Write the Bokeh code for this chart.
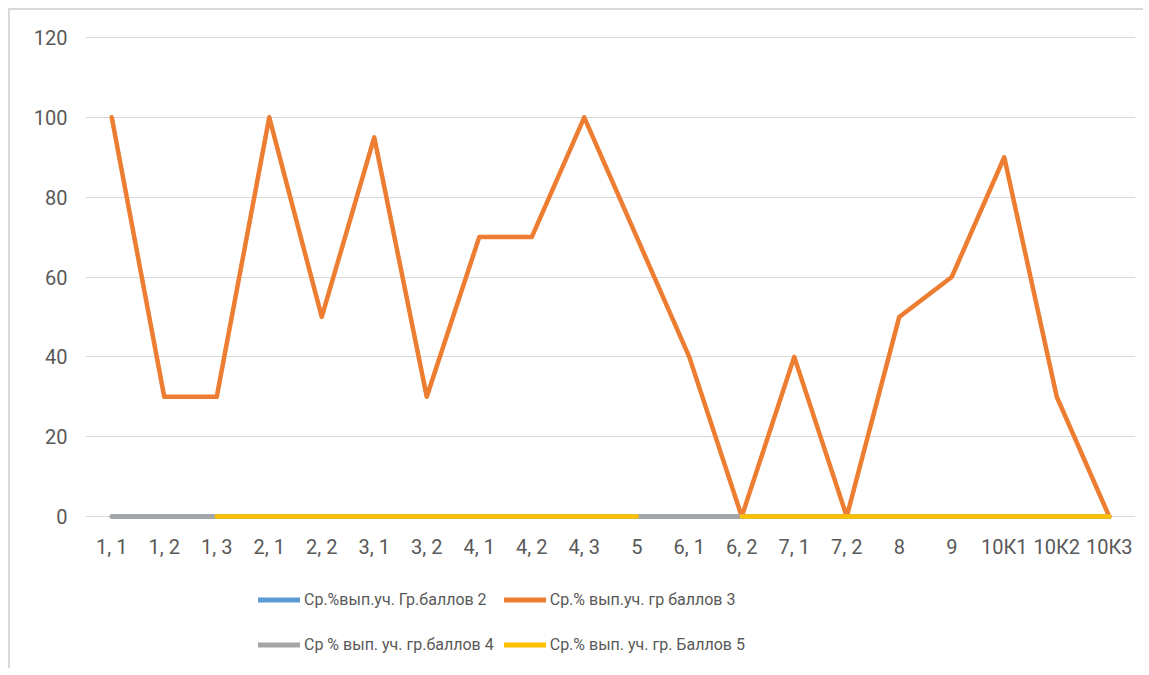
from bokeh.plotting import figure
from bokeh.layouts import column
from bokeh.models import Legend, LegendItem, FactorRange, Range1d, FixedTicker
from bokeh.embed import file_html
from bokeh.resources import INLINE

categories = ["1, 1", "1, 2", "1, 3", "2, 1", "2, 2", "3, 1", "3, 2", "4, 1", "4, 2", "4, 3",
              "5", "6, 1", "6, 2", "7, 1", "7, 2", "8", "9", "10К1", "10К2", "10К3"]
nan = float("nan")
s2 = [0, 0, 0, 0, 0, 0, 0, 0, 0, 0, 0, 0, 0, 0, 0, 0, 0, 0, 0, 0]
s3 = [100, 30, 30, 100, 50, 95, 30, 70, 70, 100, 70, 40, 0, 40, 0, 50, 60, 90, 30, 0]
s4 = [0, 0, 0, 0, 0, 0, 0, 0, 0, 0, 0, 0, 0, 0, 0, 0, 0, 0, 0, 0]
s5 = [nan, nan, 0, 0, 0, 0, 0, 0, 0, 0, 0, nan, 0, 0, 0, 0, 0, 0, 0, 0]
names = ["Ср.%вып.уч. Гр.баллов 2", "Ср.% вып.уч. гр баллов 3",
         "Ср % вып. уч. гр.баллов 4", "Ср.% вып. уч. гр. Баллов 5"]
colors = ["#5B9BD5", "#ED7D31", "#A5A5A5", "#FFC000"]
yticks = [0, 20, 40, 60, 80, 100, 120]

FONT = "Roboto"
TXT = "#595959"

p = figure(width=1133, height=558, x_range=FactorRange(*categories, range_padding=0),
           y_range=Range1d(-3, 121), output_backend="svg", toolbar_location=None,
           title=None, min_border_left=75, min_border_right=8, min_border_top=23,
           min_border_bottom=40)
p.x_range.range_padding = 0
p.outline_line_color = None
p.background_fill_color = "white"
p.border_fill_color = "white"

p.xgrid.grid_line_color = None
p.ygrid.grid_line_color = "#D9D9D9"
p.ygrid.grid_line_width = 1
p.yaxis.ticker = FixedTicker(ticks=yticks)

for ax in (p.xaxis[0], p.yaxis[0]):
    ax.axis_line_color = None
    ax.major_tick_line_color = None
    ax.minor_tick_line_color = None
    ax.major_label_text_font = FONT
    ax.major_label_text_font_size = "20px"
    ax.major_label_text_color = TXT
p.yaxis.major_label_standoff = 12
p.xaxis.major_label_standoff = 0

for vals, col in zip([s2, s3, s4, s5], colors):
    p.line(categories, vals, line_color=col, line_width=4.5,
           line_join="round", line_cap="round")

# legend panel (second figure; its lines lie outside its view)
lg = figure(width=1133, height=100, x_range=FactorRange(*categories, range_padding=0),
            y_range=Range1d(1000, 1001), output_backend="svg", toolbar_location=None,
            title=None, x_axis_location=None, y_axis_location=None,
            min_border=0)
lg.outline_line_color = None
lg.grid.visible = False
lrs = {}
for n, vals, col in zip(names, [s2, s3, s4, s5], colors):
    lrs[n] = lg.line(categories, vals, line_color=col, line_width=5,
                     line_cap="round")

order = [names[0], names[2], names[1], names[3]]
items = [LegendItem(label=n, renderers=[lrs[n]]) for n in order]
legend = Legend(items=items, ncols=2, location=(173, 6),
                label_text_font=FONT, label_text_font_size="16px",
                label_text_color=TXT, glyph_width=42, glyph_height=35,
                label_standoff=4, spacing=10, padding=0, margin=0,
                border_line_color=None, background_fill_alpha=0)
lg.add_layout(legend, "center")

layout = column(p, lg, spacing=0,
                styles={"margin-left": "8px", "margin-top": "8px",
                        "border-left": "2px solid #D9D9D9",
                        "border-top": "2px solid #D9D9D9"})
open("out.html", "w").write(file_html(layout, INLINE))
